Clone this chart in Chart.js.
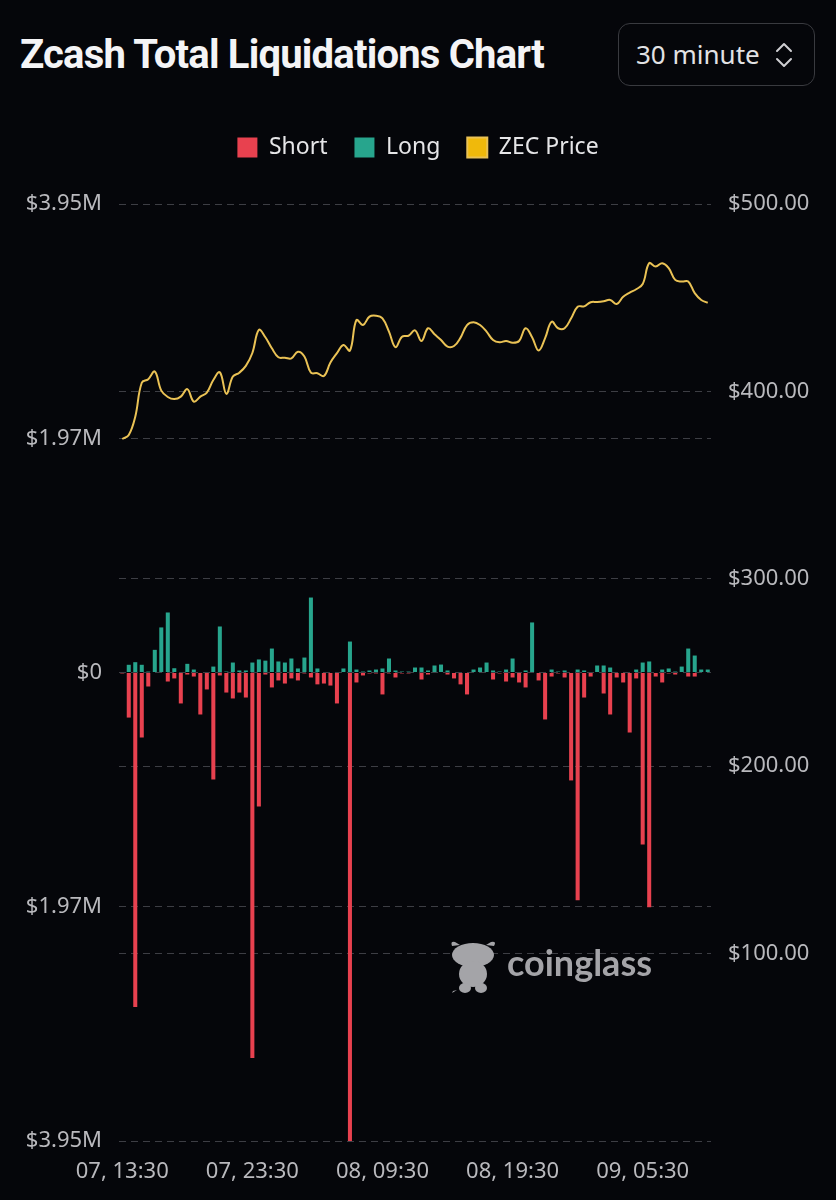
<!DOCTYPE html>
<html lang="en">
<head>
<meta charset="utf-8">
<meta name="viewport" content="width=836,initial-scale=1">
<title>Zcash Total Liquidations Chart</title>
<script src="https://cdn.jsdelivr.net/npm/chart.js@4"></script>
<style>
  html,body{margin:0;padding:0;background:#05060a}
  body{width:836px;height:1200px;position:relative;overflow:hidden;font-family:"Noto Sans",sans-serif}
  #liqChart{position:absolute;left:0;top:0}
  .title{position:absolute;left:20px;top:35px;font:700 40px/40px Roboto,sans-serif;letter-spacing:-0.8px;color:#f4f4f6;white-space:nowrap}
  .picker{position:absolute;left:618px;top:23px;width:197px;height:63px;box-sizing:border-box;border:1.5px solid #393a3f;border-radius:12px;color:#e2e2e4;font:400 26px/60px "Noto Sans",sans-serif;padding-left:17px}
  .picker svg{position:absolute;left:155px;top:17px}
  .mark{position:absolute;left:449px;top:938px;color:#a4a4a8}
  .mark span{position:absolute;left:58px;top:4px;font:700 36px/40px Lato,sans-serif;white-space:nowrap}
</style>
</head>
<body>
<div class="title">Zcash Total Liquidations Chart</div>
<div class="picker">30 minute
  <svg width="20" height="28" viewBox="0 0 20 28"><path d="M3 10 L10 3 L17 10 M3 18 L10 25 L17 18" fill="none" stroke="#cfcfd2" stroke-width="2" stroke-linecap="round" stroke-linejoin="round"/></svg>
</div>
<canvas id="liqChart" width="836" height="1200"></canvas>
<div class="mark">
  <svg width="50" height="56" viewBox="0 0 50 56">
    <g fill="#a4a4a8">
      <path d="M3 8 Q1 3 6 4 L11 7 Z"/><path d="M45 8 Q48 3 42 4 L37 7 Z"/>
      <ellipse cx="24" cy="17" rx="21" ry="12"/>
      <ellipse cx="24" cy="36" rx="14" ry="13"/>
      <ellipse cx="16" cy="50" rx="6" ry="5"/><ellipse cx="32" cy="50" rx="6" ry="5"/>
      <path d="M8 52 L3 55 L4 53 Z" />
    </g>
  </svg>
  <span>coinglass</span>
</div>
<script>
// 30 minute buckets, 07 13:30 -> 09 10:30
const categories = [
  '07, 13:30','07, 14:00','07, 14:30','07, 15:00','07, 15:30','07, 16:00','07, 16:30','07, 17:00','07, 17:30','07, 18:00',
  '07, 18:30','07, 19:00','07, 19:30','07, 20:00','07, 20:30','07, 21:00','07, 21:30','07, 22:00','07, 22:30','07, 23:00',
  '07, 23:30','08, 00:00','08, 00:30','08, 01:00','08, 01:30','08, 02:00','08, 02:30','08, 03:00','08, 03:30','08, 04:00',
  '08, 04:30','08, 05:00','08, 05:30','08, 06:00','08, 06:30','08, 07:00','08, 07:30','08, 08:00','08, 08:30','08, 09:00',
  '08, 09:30','08, 10:00','08, 10:30','08, 11:00','08, 11:30','08, 12:00','08, 12:30','08, 13:00','08, 13:30','08, 14:00',
  '08, 14:30','08, 15:00','08, 15:30','08, 16:00','08, 16:30','08, 17:00','08, 17:30','08, 18:00','08, 18:30','08, 19:00',
  '08, 19:30','08, 20:00','08, 20:30','08, 21:00','08, 21:30','08, 22:00','08, 22:30','08, 23:00','08, 23:30','09, 00:00',
  '09, 00:30','09, 01:00','09, 01:30','09, 02:00','09, 02:30','09, 03:00','09, 03:30','09, 04:00','09, 04:30','09, 05:00',
  '09, 05:30','09, 06:00','09, 06:30','09, 07:00','09, 07:30','09, 08:00','09, 08:30','09, 09:00','09, 09:30','09, 10:00',
  '09, 10:30'
];
const shownTicks = ['07, 13:30','07, 23:30','08, 09:30','08, 19:30','09, 05:30'];

// USD, short liquidations drawn below zero
const shortLiq = [
  8000,380000,2820000,548000,118000,0,0,76000,50000,261000,
  17000,34000,354000,143000,902000,25000,169000,219000,169000,211000,
  3250000,1130000,17000,126000,67000,93000,50000,67000,8000,42000,
  100000,93000,110000,261000,0,3950000,84000,25000,8000,8000,
  185000,8000,42000,8000,8000,0,59000,17000,0,0,
  17000,50000,100000,185000,0,0,0,59000,8000,76000,
  42000,84000,126000,0,67000,396000,34000,8000,42000,910000,
  1920000,211000,34000,0,177000,354000,42000,84000,506000,50000,
  1450000,1980000,34000,84000,8000,17000,0,34000,34000,0,0
];
const longLiq = [
  0,65000,87000,65000,8000,191000,380000,506000,36000,0,
  73000,25000,0,0,50000,388000,8000,84000,17000,17000,
  84000,110000,100000,202000,93000,84000,118000,34000,126000,632000,
  34000,0,0,0,34000,261000,25000,8000,17000,25000,
  34000,118000,17000,8000,8000,42000,42000,17000,59000,67000,
  17000,0,0,0,25000,42000,84000,17000,8000,25000,
  118000,0,17000,422000,0,0,25000,8000,17000,0,
  25000,17000,0,59000,59000,42000,0,0,0,25000,
  84000,93000,0,25000,34000,8000,50000,202000,143000,25000,25000
];
const zecPrice = [
  374.6,376.7,386.5,404.6,406.5,410.6,400.4,397.0,395.9,397.2,
  401.2,394.5,397.2,399.4,406.1,410.2,398.7,407.9,410.0,413.6,
  420.5,432.8,428.9,423.0,418.2,418.0,417.6,421.2,418.6,410.0,
  409.7,408.2,415.4,420.4,424.8,421.8,438.1,435.4,439.9,440.4,
  439.0,431.9,423.6,429.2,429.7,432.6,426.9,433.7,430.5,427.4,
  423.9,424.2,428.7,435.4,436.9,435.4,431.9,427.4,426.2,426.9,
  426.0,426.9,433.7,428.9,421.8,428.4,437.2,433.7,433.7,439.0,
  445.2,445.4,447.6,447.7,448.1,448.8,446.6,450.5,452.7,454.5,
  457.3,468.4,466.6,468.4,465.8,459.5,458.6,458.6,452.4,448.8,447.3
];

const liqTicks = [-3950000,-1975000,0,1975000,3950000];
const liqTickLabels = ['$3.95M','$1.97M','$0','$1.97M','$3.95M'];
const priceTicks = [0,100,200,300,400,500];
const priceTickLabels = ['','$100.00','$200.00','$300.00','$400.00','$500.00'];

const gridColor = '#3d3e44';
const tickColor = '#b9b9bd';
const tickFont = {family:'"Noto Sans", sans-serif', size:22};

// push the plot area down below the legend
const legendGap = {
  id:'legendGap',
  beforeInit(chart){
    if(!chart.legend) return;
    const fit = chart.legend.fit;
    chart.legend.fit = function(){ fit.call(this); this.height += 35; };
  }
};

new Chart(document.getElementById('liqChart'), {
  data:{
    labels:categories,
    datasets:[
      {type:'bar',label:'Short',data:shortLiq.map(v=>-v),backgroundColor:'#e8414f',yAxisID:'yLiq',stack:'liq',barPercentage:0.62,categoryPercentage:1},
      {type:'bar',label:'Long',data:longLiq,backgroundColor:'#27a58d',yAxisID:'yLiq',stack:'liq',barPercentage:0.62,categoryPercentage:1},
      {type:'line',label:'ZEC Price',data:zecPrice,borderColor:'#eac255',backgroundColor:'#f0b90b',borderWidth:2,pointRadius:0,tension:0.4,yAxisID:'yPrice'}
    ]
  },
  options:{
    responsive:false,animation:false,
    layout:{padding:{top:109,left:0,right:0,bottom:0}},
    plugins:{
      legend:{
        labels:{color:'#e6e6e8',font:{family:'"Noto Sans", sans-serif',size:23},boxWidth:20,boxHeight:20,padding:27,
          sort:(a,b)=>a.datasetIndex-b.datasetIndex}
      },
      tooltip:{enabled:false}
    },
    scales:{
      x:{
        stacked:true,offset:true,
        grid:{display:false},border:{display:false},
        ticks:{
          color:tickColor,font:tickFont,autoSkip:false,maxRotation:0,padding:10,
          callback(v){ const l=this.getLabelForValue(v); return shownTicks.includes(l)?l:''; }
        },
        afterFit(s){ s.height=59; }
      },
      yLiq:{
        position:'left',stacked:true,min:liqTicks[0],max:liqTicks[liqTicks.length-1],
        grid:{color:gridColor,drawTicks:false},border:{display:false,dash:[7,5]},
        ticks:{color:tickColor,font:tickFont,padding:17,callback:(v,i)=>liqTickLabels[i]},
        afterBuildTicks(s){ s.ticks=liqTicks.map(v=>({value:v})); },
        afterFit(s){ s.width=119; }
      },
      yPrice:{
        position:'right',min:priceTicks[0],max:priceTicks[priceTicks.length-1],
        grid:{color:gridColor,drawTicks:false},border:{display:false,dash:[7,5]},
        ticks:{color:tickColor,font:tickFont,padding:17,callback:(v,i)=>priceTickLabels[i]},
        afterBuildTicks(s){ s.ticks=priceTicks.map(v=>({value:v})); },
        afterFit(s){ s.width=125; }
      }
    }
  },
  plugins:[legendGap]
});
</script>
</body>
</html>
